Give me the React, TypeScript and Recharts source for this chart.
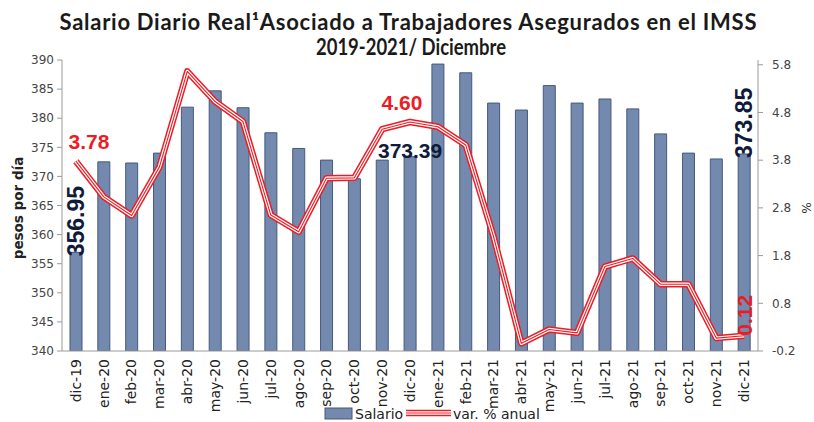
import { Bar, ComposedChart, LabelList, Line, XAxis, YAxis } from "recharts";

const months = [
  "dic-19", "ene-20", "feb-20", "mar-20", "abr-20", "may-20", "jun-20", "jul-20", "ago-20",
  "sep-20", "oct-20", "nov-20", "dic-20", "ene-21", "feb-21", "mar-21", "abr-21", "may-21",
  "jun-21", "jul-21", "ago-21", "sep-21", "oct-21", "nov-21", "dic-21",
];

// salario diario real, pesos por día
const salario = [
  356.95, 372.5, 372.3, 374.0, 381.9, 384.7, 381.8, 377.5, 374.8, 372.8, 369.6, 372.8, 373.39,
  389.3, 387.8, 382.6, 381.4, 385.6, 382.6, 383.3, 381.6, 377.3, 374.0, 373.0, 373.85,
];

// variación % anual
const varAnual = [
  3.78, 3.03, 2.64, 3.66, 5.66, 5.03, 4.61, 2.65, 2.3, 3.42, 3.43, 4.45, 4.6,
  4.5, 4.12, 2.2, -0.04, 0.25, 0.18, 1.57, 1.74, 1.2, 1.2, 0.07, 0.12,
];

const leftTicks = [340, 345, 350, 355, 360, 365, 370, 375, 380, 385, 390];
const rightTicks = [-0.2, 0.8, 1.8, 2.8, 3.8, 4.8, 5.8];

const title1 = "Salario Diario Real¹Asociado a Trabajadores Asegurados en el IMSS";
const title2 = "2019-2021/ Diciembre";

const isDec = (m: string) => m.startsWith("dic");

const data = months.map((mes, i) => ({
  mes,
  salario: salario[i],
  var: varAnual[i],
  salLabel: isDec(mes) ? salario[i] : null,
  varLabel: isDec(mes) ? varAnual[i] : null,
}));

const BAR = "#7389ae";
const BAR_EDGE = "#46597f";
const RED = "#ec1c24";
const NAVY = "#101a3a";
const LAST = months.length - 1;

function box(p: any) {
  const v = p.viewBox || {};
  return {
    x: v.x ?? p.x,
    y: v.y ?? p.y,
    width: v.width ?? p.width ?? 0,
  };
}

function MonthTick({ x, y, payload }: any) {
  return (
    <text
      x={x}
      y={y}
      transform={`rotate(-90 ${x} ${y})`}
      textAnchor="end"
      dy="0.35em"
      fontFamily="DejaVu Sans"
      fontSize={14}
      fill="#222"
    >
      {payload.value}
    </text>
  );
}

function SalarioLabel(p: any) {
  if (p.value == null) return null;
  const i = p.index ?? salario.indexOf(Number(p.value));
  const { x, y, width } = box(p);
  const cx = x + width / 2;
  const text = Number(p.value).toFixed(2);
  if (i === 0 || i === LAST) {
    const ty = y + 4;
    return (
      <text x={cx} y={ty} transform={`rotate(-90 ${cx} ${ty})`} textAnchor="start" dy="0.36em"
        fontFamily="Liberation Sans" fontWeight="bold" fontSize={23} fill={NAVY}>
        {text}
      </text>
    );
  }
  return (
    <text x={cx} y={y + 1} textAnchor="middle" fontFamily="Liberation Sans" fontWeight="bold"
      fontSize={21} fill={NAVY}>
      {text}
    </text>
  );
}

function VarLabel(p: any) {
  if (p.value == null) return null;
  const i = p.index ?? varAnual.indexOf(Number(p.value));
  const { x, y } = box(p);
  const text = Number(p.value).toFixed(2);
  if (i === LAST) {
    return (
      <text x={x} y={y} transform={`rotate(-90 ${x} ${y})`} textAnchor="start" dy="0.36em"
        fontFamily="Liberation Sans" fontWeight="bold" fontSize={21} fill={RED}>
        {text}
      </text>
    );
  }
  const dx = i === 0 ? 13 : -8;
  return (
    <text x={x + dx} y={y - 12} textAnchor="middle" fontFamily="Liberation Sans" fontWeight="bold"
      fontSize={21} fill={RED}>
      {text}
    </text>
  );
}

export default function App() {
  return (
    <div style={{ position: "absolute", left: 0, top: 0, width: 814, height: 422, background: "#fff" }}>
      <ComposedChart width={814} height={422} data={data} margin={{ top: 60, right: 10, bottom: 0, left: 22 }}>
        <XAxis dataKey="mes" interval={0} height={71} tick={<MonthTick />} tickLine={false}
          axisLine={{ stroke: "#9a9a9a" }} />
        <YAxis yAxisId="left" width={40} domain={[340, 390]} ticks={leftTicks} interval={0}
          allowDataOverflow tickSize={5} tickMargin={3} axisLine={{ stroke: "#9a9a9a" }}
          tickLine={{ stroke: "#9a9a9a" }}
          tick={{ fontFamily: "DejaVu Sans", fontSize: 12, fill: "#444" }} />
        <YAxis yAxisId="right" orientation="right" width={46} domain={[-0.2, 5.9]} ticks={rightTicks}
          interval={0} allowDataOverflow tickSize={5} tickMargin={9} axisLine={{ stroke: "#9a9a9a" }}
          tickLine={{ stroke: "#9a9a9a" }} tickFormatter={(v: number) => v.toFixed(1)}
          tick={{ fontFamily: "DejaVu Sans", fontSize: 12, fill: "#444", textAnchor: "start" }} />
        <Bar yAxisId="left" dataKey="salario" barSize={12} fill={BAR} stroke={BAR_EDGE} strokeWidth={1}
          isAnimationActive={false}>
          <LabelList dataKey="salLabel" content={SalarioLabel} />
        </Bar>
        <Line yAxisId="right" dataKey="var" type="linear" stroke={RED} strokeWidth={6.5} dot={false}
          activeDot={false} strokeLinejoin="round" isAnimationActive={false} />
        <Line yAxisId="right" dataKey="var" type="linear" stroke="#fff" strokeWidth={3.5} dot={false}
          activeDot={false} strokeLinejoin="round" isAnimationActive={false} />
        <Line yAxisId="right" dataKey="var" type="linear" stroke={RED} strokeWidth={1.1} dot={false}
          activeDot={false} strokeLinejoin="round" isAnimationActive={false}>
          <LabelList dataKey="varLabel" content={VarLabel} />
        </Line>
      </ComposedChart>

      <svg width={814} height={422} style={{ position: "absolute", left: 0, top: 0, pointerEvents: "none" }}>
        <text x={408} y={30} textAnchor="middle" fontFamily="Lato" fontWeight="bold" fontSize={22}
          fill="#1a1a1a" textLength={697} lengthAdjust="spacing">
          {title1}
        </text>
        <text x={411} y={55} textAnchor="middle" fontFamily="Lato" fontWeight="bold" fontSize={22}
          fill="#1a1a1a" textLength={190} lengthAdjust="spacingAndGlyphs">
          {title2}
        </text>
        <text x={18} y={208} transform="rotate(-90 18 208)" textAnchor="middle" dy="0.35em"
          fontFamily="DejaVu Sans" fontWeight="bold" fontSize={13.5} fill="#222">
          pesos por día
        </text>
        <text x={806} y={208} transform="rotate(90 806 208)" textAnchor="middle" dy="0.35em"
          fontFamily="DejaVu Sans" fontSize={12} fill="#333">
          %
        </text>
        <rect x={325} y={408} width={27} height={11} fill={BAR} stroke={BAR_EDGE} />
        <text x={355} y={419} fontFamily="DejaVu Sans" fontSize={14} fill="#222">Salario</text>
        <line x1={406} y1={413} x2={451} y2={413} stroke={RED} strokeWidth={6.5} />
        <line x1={406} y1={413} x2={451} y2={413} stroke="#fff" strokeWidth={3.5} />
        <line x1={406} y1={413} x2={451} y2={413} stroke={RED} strokeWidth={1.1} />
        <text x={453} y={419} fontFamily="DejaVu Sans" fontSize={14} fill="#222">var. % anual</text>
      </svg>
    </div>
  );
}
